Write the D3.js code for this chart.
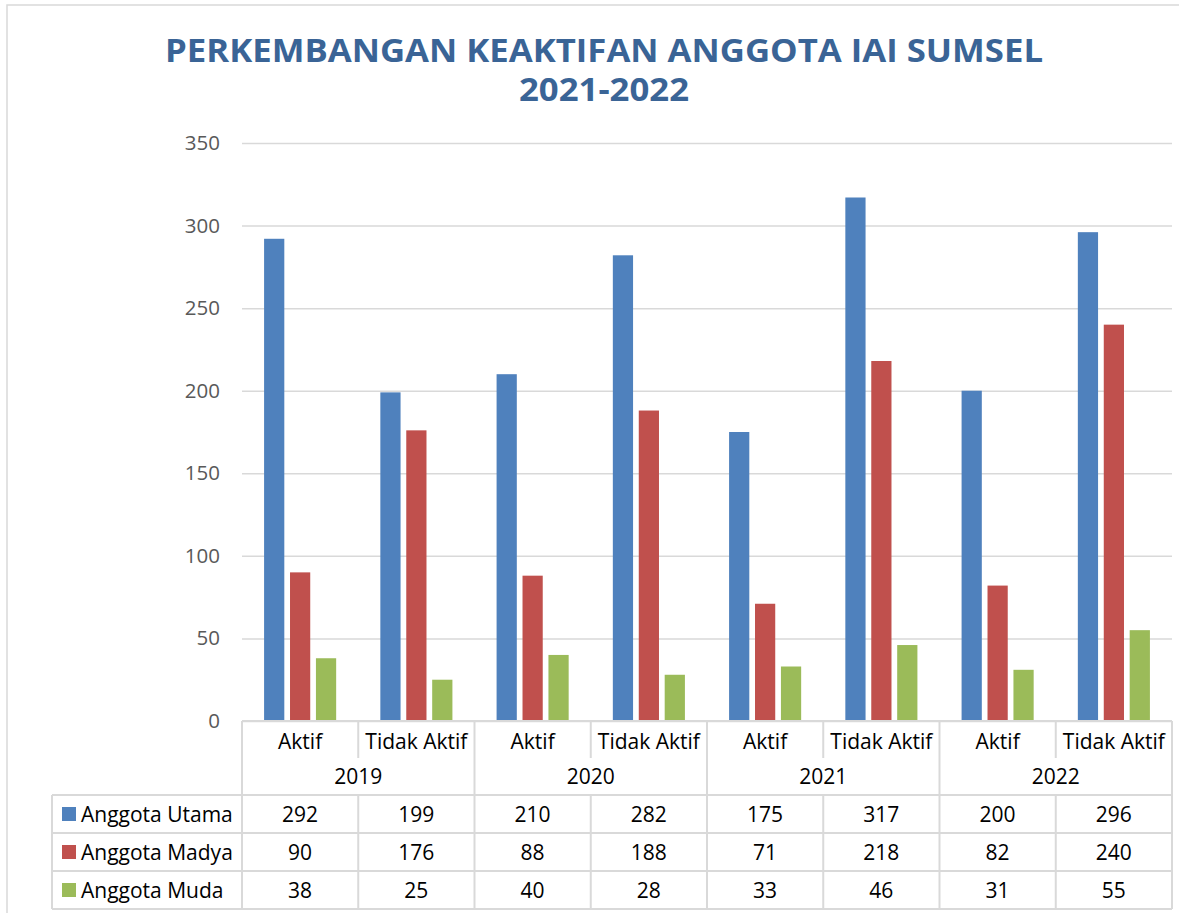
<!DOCTYPE html>
<html>
<head>
<meta charset="utf-8">
<script src="https://cdn.jsdelivr.net/npm/d3@7"></script>
<style>
  body { margin: 0; background: #fff; }
  svg { display: block; font-family: "Open Sans", sans-serif; }
</style>
</head>
<body>
<div id="chart"></div>
<script>
// data
const years = ["2019", "2020", "2021", "2022"];
const statusLabels = ["Aktif", "Tidak Aktif"];
const seriesNames = ["Anggota Utama", "Anggota Madya", "Anggota Muda"];
const seriesColors = ["#4F81BD", "#C0504D", "#9BBB59"];
const utama = [292, 199, 210, 282, 175, 317, 200, 296];
const madya = [90, 176, 88, 188, 71, 218, 82, 240];
const muda = [38, 25, 40, 28, 33, 46, 31, 55];
const yTicks = [0, 50, 100, 150, 200, 250, 300, 350];

const series = [utama, madya, muda];
const categories = years.flatMap(y => statusLabels.map(s => ({ year: y, status: s })));

const width = 1195, height = 913;
const plot = { left: 242, right: 1172, top: 143, bottom: 721 };
const gridColor = "#D9D9D9";

const svg = d3.select("#chart").append("svg")
    .attr("width", width)
    .attr("height", height);

// outer chart border (only top and left visible)
svg.append("path")
    .attr("d", `M7,${height} V5 H1179`)
    .attr("fill", "none")
    .attr("stroke", gridColor)
    .attr("stroke-width", 1.5);

// title
const title = svg.append("text")
    .attr("text-anchor", "middle")
    .attr("fill", "#3A6496")
    .attr("font-weight", 700)
    .attr("font-size", 32);
title.append("tspan").attr("x", 604).attr("y", 62)
    .attr("textLength", 878).attr("lengthAdjust", "spacingAndGlyphs")
    .text("PERKEMBANGAN KEAKTIFAN ANGGOTA IAI SUMSEL");
title.append("tspan").attr("x", 604).attr("y", 101)
    .attr("textLength", 170).attr("lengthAdjust", "spacingAndGlyphs")
    .text("2021-2022");

// scales
const x0 = d3.scaleBand()
    .domain(d3.range(categories.length))
    .range([plot.left, plot.right])
    .paddingInner(0.38)
    .paddingOuter(0.19);

const x1 = d3.scaleBand()
    .domain(d3.range(series.length))
    .range([0, x0.bandwidth()])
    .paddingInner(0.22);

const y = d3.scaleLinear()
    .domain([0, 350])
    .range([plot.bottom, plot.top]);

const step = x0.step();
const catLeft = i => plot.left + i * step;

// gridlines + y labels
const yAxis = svg.append("g")
    .attr("transform", `translate(${plot.left},0)`)
    .call(d3.axisLeft(y)
        .tickValues(yTicks)
        .tickSize(-(plot.right - plot.left))
        .tickPadding(22));
yAxis.select(".domain").remove();
yAxis.selectAll(".tick line").attr("stroke", gridColor).attr("stroke-width", 1.5);
yAxis.selectAll(".tick text")
    .attr("fill", "#595959")
    .attr("font-size", 20.5)
    .attr("font-family", "Open Sans, sans-serif");

// bars
series.forEach((vals, si) => {
    svg.append("g").selectAll("rect")
        .data(vals)
        .join("rect")
        .attr("x", (d, i) => x0(i) + x1(si))
        .attr("y", d => y(d))
        .attr("width", x1.bandwidth())
        .attr("height", d => y(0) - y(d))
        .attr("fill", seriesColors[si]);
});

// data table
const rowCat = { top: 721, bottom: 758 };
const rowYear = { top: 758, bottom: 795 };
const rowH = 38;
const legendLeft = 52;
const tableBottom = rowYear.bottom + rowH * series.length;
const lines = svg.append("g")
    .attr("stroke", gridColor)
    .attr("stroke-width", 2)
    .attr("fill", "none");

// horizontal lines
lines.append("line").attr("x1", plot.left).attr("x2", plot.right)
    .attr("y1", rowCat.top).attr("y2", rowCat.top);
d3.range(series.length + 1).forEach(r => {
    const yy = rowYear.bottom + r * rowH;
    lines.append("line").attr("x1", legendLeft).attr("x2", plot.right)
        .attr("y1", yy).attr("y2", yy);
});
// vertical lines
lines.append("line").attr("x1", legendLeft).attr("x2", legendLeft)
    .attr("y1", rowYear.bottom).attr("y2", tableBottom);
d3.range(categories.length + 1).forEach(i => {
    const xx = catLeft(i);
    const yearEdge = i % statusLabels.length === 0;
    if (yearEdge) {
        lines.append("line").attr("x1", xx).attr("x2", xx)
            .attr("y1", rowCat.top).attr("y2", tableBottom);
    } else {
        lines.append("line").attr("x1", xx).attr("x2", xx)
            .attr("y1", rowCat.top).attr("y2", rowCat.bottom);
        lines.append("line").attr("x1", xx).attr("x2", xx)
            .attr("y1", rowYear.bottom).attr("y2", tableBottom);
    }
});

const txt = svg.append("g")
    .attr("font-size", 21)
    .attr("fill", "#000")
    .attr("text-anchor", "middle")
    .attr("dominant-baseline", "central");

// status labels
categories.forEach((c, i) => {
    txt.append("text")
        .attr("x", catLeft(i) + step / 2)
        .attr("y", (rowCat.top + rowCat.bottom) / 2 + 1)
        .text(c.status);
});
// year labels
years.forEach((yr, j) => {
    txt.append("text")
        .attr("x", catLeft(j * 2) + step)
        .attr("y", (rowYear.top + rowYear.bottom) / 2 - 1)
        .text(yr);
});
// values + legend keys
series.forEach((vals, si) => {
    const cy = rowYear.bottom + si * rowH + rowH / 2;
    svg.append("rect")
        .attr("x", 62).attr("y", cy - 7)
        .attr("width", 14).attr("height", 14)
        .attr("fill", seriesColors[si]);
    txt.append("text")
        .attr("x", 81).attr("y", cy)
        .attr("text-anchor", "start")
        .text(seriesNames[si]);
    vals.forEach((v, i) => {
        txt.append("text")
            .attr("x", catLeft(i) + step / 2)
            .attr("y", cy)
            .text(v);
    });
});
</script>
</body>
</html>
